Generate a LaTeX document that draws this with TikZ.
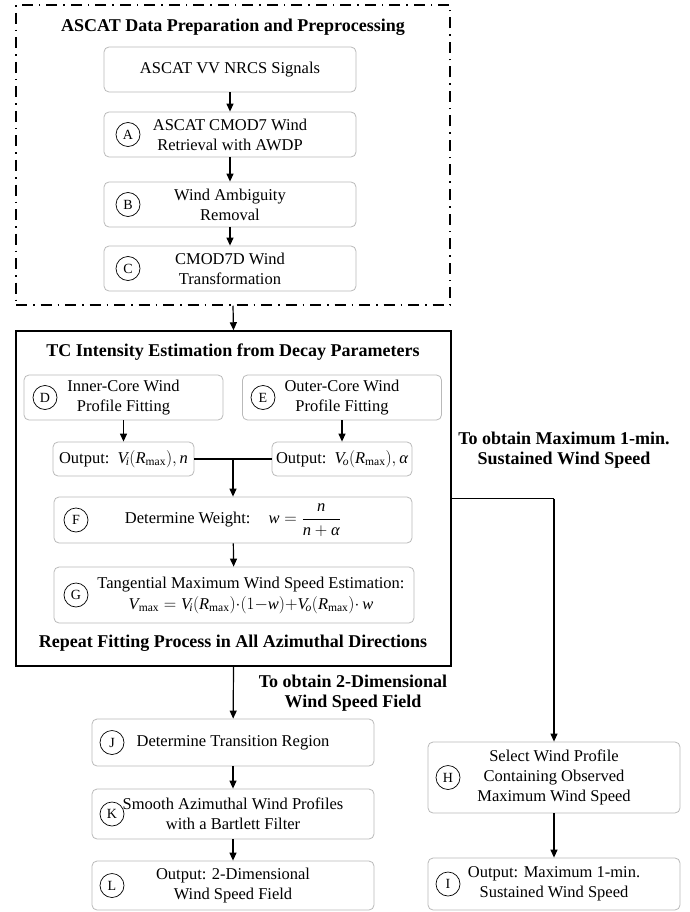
\documentclass[tikz,border=0pt]{standalone}
\usepackage{fontspec}
\usepackage{amsmath}
\setmainfont{Liberation Serif}
\usetikzlibrary{arrows.meta}

\newcommand{\Rmx}{\textit{R}_{\text{max}}}

\begin{document}
\begin{tikzpicture}[x=1pt, y=-1pt,
    box/.style={draw=gray!55, line width=0.8pt, rounded corners=5pt, align=center,
      inner sep=2pt, font=\fontsize{16.5}{20}\selectfont},
    tag/.style={circle, draw, line width=0.7pt, minimum size=24pt, inner sep=0pt,
      font=\fontsize{14}{14}\selectfont},
    head/.style={align=center, font=\fontsize{18}{20.5}\selectfont\bfseries},
    arr/.style={-{Triangle[length=8pt,width=7pt]}, line width=1.2pt},
    every label/.style={draw=none, text=black}]

    \useasboundingbox (0,0) rectangle (690,912);

    % Frames
    \node[draw, line width=1.5pt, dash pattern=on 11pt off 6pt on 1.5pt off 6pt,
      minimum width=434, minimum height=300, inner sep=0pt] (pre) at (233,155) {};
    \node[draw, line width=1.5pt, minimum width=435, minimum height=335,
      inner sep=0pt] (tc) at (233.5,498.5) {};

    % Preparation nodes
    \node[head] (title1) at (233,27) {ASCAT Data Preparation and Preprocessing};
    \node[box, minimum width=252, minimum height=45] (sig) at (230,69.5) {ASCAT VV NRCS Signals};
    \node[box, minimum width=252, minimum height=45] (A) at (230,134.5) {ASCAT CMOD7 Wind\\Retrieval with AWDP};
    \node[box, minimum width=252, minimum height=45] (B) at (230,204.5) {Wind Ambiguity\\Removal};
    \node[box, minimum width=252, minimum height=45] (C) at (230,268.5) {CMOD7D Wind\\Transformation};
    \node[tag] (tA) at (128,134.5) {A};
    \node[tag] (tB) at (128,204.5) {B};
    \node[tag] (tC) at (128,268.5) {C};

    % Estimation nodes
    \node[head] (title2) at (233,352) {TC Intensity Estimation from Decay Parameters};
    \node[box, minimum width=199, minimum height=45] (D) at (123.5,397.5) {Inner-Core Wind\\Profile Fitting};
    \node[box, minimum width=199, minimum height=45] (E) at (342,397.5) {Outer-Core Wind\\Profile Fitting};
    \node[tag] (tD) at (45,397.5) {D};
    \node[tag] (tE) at (263,397.5) {E};
    \node[box, minimum width=141, minimum height=34] (outD) at (123.5,459)
      {Output:\, $\textit{V}_{\!\textit{i}}(\Rmx),\textit{n}$};
    \node[box, minimum width=140, minimum height=34] (outE) at (342,459)
      {Output:\, $\textit{V}_{\!\textit{o}}(\Rmx),\textit{α}$};
    \node[coordinate] (join) at (233,459) {};
    \node[box, minimum width=358, minimum height=46] (F) at (233,520)
      {Determine Weight:\hspace{18pt}$\textit{w}=\dfrac{\textit{n}}{\textit{n}+\textit{α}}$};
    \node[tag] (tF) at (76,520) {F};
    \node[box, minimum width=360, minimum height=56] (G) at (234,595) {};
    \node[align=center, font=\fontsize{16.5}{21}\selectfont] (Gtxt) at (251,595)
      {Tangential Maximum Wind Speed Estimation:\\
       $\textit{V}_{\text{max}}=\textit{V}_{\!\textit{i}}(\Rmx){\cdot}(1{-}\textit{w}){+}
        \textit{V}_{\!\textit{o}}(\Rmx){\cdot}\,\textit{w}$};
    \node[tag] (tG) at (76,595) {G};
    \node[head] (rep) at (233,643) {Repeat Fitting Process in All Azimuthal Directions};

    % 2-D field nodes
    \node[head] (lab2) at (353,693) {To obtain 2-Dimensional\\Wind Speed Field};
    \node[box, minimum width=282, minimum height=47] (J) at (233,742.5) {Determine Transition Region};
    \node[box, minimum width=282, minimum height=50] (K) at (233,814) {Smooth Azimuthal Wind Profiles\\with a Bartlett Filter};
    \node[box, minimum width=282, minimum height=49] (L) at (233,885.5) {Output: 2-Dimensional\\Wind Speed Field};
    \node[tag] (tJ) at (112,742.5) {J};
    \node[tag] (tK) at (112,814) {K};
    \node[tag] (tL) at (112,885.5) {L};

    % Maximum wind nodes
    \node[head] (lab3) at (564,450) {To obtain Maximum 1-min.\\Sustained Wind Speed};
    \node[coordinate] (corner) at (554,498.5) {};
    \node[box, minimum width=252, minimum height=71] (H) at (554,777.5) {Select Wind Profile\\Containing Observed\\Maximum Wind Speed};
    \node[box, minimum width=252, minimum height=52] (I) at (554,884) {Output: Maximum 1-min.\\Sustained Wind Speed};
    \node[tag] (tH) at (448,777.5) {H};
    \node[tag] (tI) at (448,884) {I};

    % Edges
    \draw[arr] (sig) -- (A);
    \draw[arr] (A) -- (B);
    \draw[arr] (B) -- (C);
    \draw[arr] (pre.south) -- (tc.north);
    \draw[arr] (D) -- (D |- outD.north);
    \draw[arr] (E) -- (E |- outE.north);
    \draw[line width=1.2pt] (outD) -- (outE);
    \draw[arr] (join) -- (F);
    \draw[arr] (F) -- (G);
    \draw[arr] (tc.south) -- (J);
    \draw[arr] (J) -- (K);
    \draw[arr] (K) -- (L);
    \draw[line width=1.2pt] (tc.east) -- (corner);
    \draw[arr] (corner) -- (H);
    \draw[arr] (H) -- (I);
\end{tikzpicture}
\end{document}
